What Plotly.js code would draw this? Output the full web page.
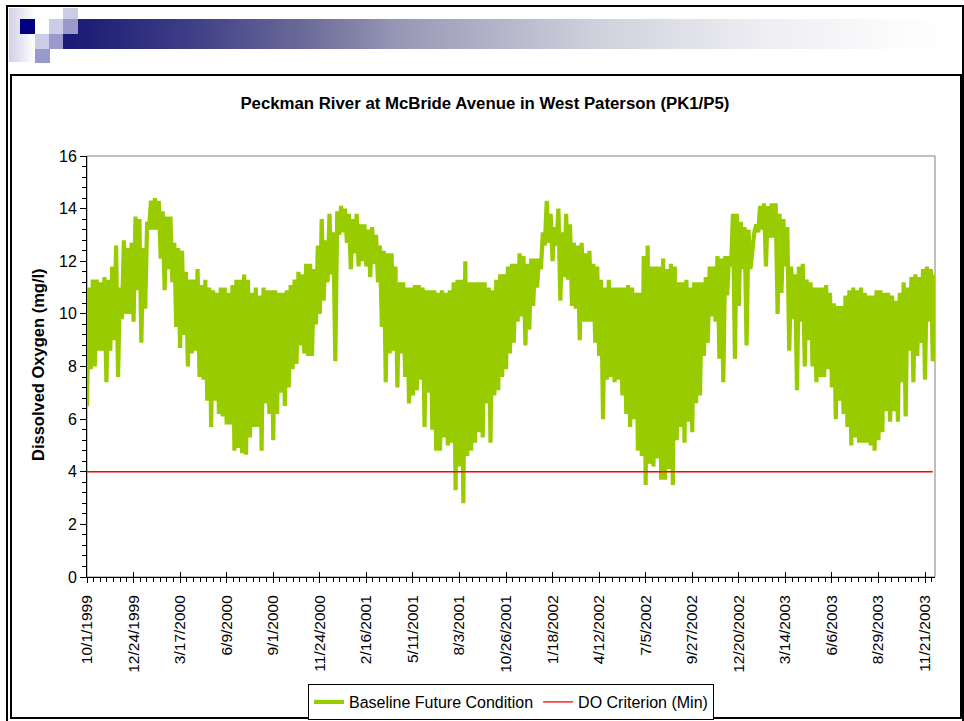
<!DOCTYPE html>
<html>
<head>
<meta charset="utf-8">
<script src="https://cdn.plot.ly/plotly-3.0.1.min.js"></script>
<style>
  html, body { margin:0; padding:0; background:#fff; }
  #wrap { position:relative; width:964px; height:721px; overflow:hidden; background:#fff; }
  .d { position:absolute; }
  #chart { position:absolute; left:0; top:0; width:964px; height:721px; }
</style>
</head>
<body>
<div id="wrap">
  <!-- slide frame -->
  <div class="d" style="left:6px;top:5px;width:954px;height:720px;border-top:2px solid #000;border-left:2px solid #000;border-right:2px solid #000;"></div>
  <!-- header decoration -->
  <div class="d" style="left:9px;top:8px;width:26px;height:54px;background:linear-gradient(to right,#d0d0e8,#ffffff);"></div>
  <div class="d" style="left:63px;top:19px;width:889px;height:30px;background:linear-gradient(to right,#1a1a78 0%,#222278 4%,#404088 15%,#6a6a98 27%,#9898b6 38%,#cfd1dc 60%,#eeeef3 79%,#fcfcfd 94%,#ffffff 100%);"></div>
  <div class="d" style="left:20px;top:19px;width:15px;height:15px;background:#000080;"></div>
  <div class="d" style="left:49px;top:19px;width:14px;height:15px;background:#ccccE6;"></div>
  <div class="d" style="left:63px;top:19px;width:15px;height:15px;background:#9999cc;"></div>
  <div class="d" style="left:63px;top:8px;width:15px;height:11px;background:#ccccE6;"></div>
  <div class="d" style="left:35px;top:34px;width:14px;height:15px;background:#ccccE6;"></div>
  <div class="d" style="left:49px;top:34px;width:14px;height:15px;background:#9999cc;"></div>
  <div class="d" style="left:35px;top:49px;width:15px;height:14px;background:#9999cc;"></div>
  <!-- chart frame -->
  <div class="d" style="left:10px;top:74px;width:948px;height:641px;border:2px solid #000;"></div>
  <div id="chart"></div>
</div>
<script>
// ---- data ----
const startDate = '1999-10-01';          // first day of the series
const stepDays = 7;                       // one high/low pair per week
// weekly high of the dissolved-oxygen trace (mg/l)
const weeklyHigh = [
 11.0, 11.3, 11.3, 11.2, 11.4, 11.3, 11.8, 12.6, 11.0, 12.8,
 12.5, 12.7, 13.7, 13.6, 12.5, 13.5, 14.3, 14.4, 14.3, 13.9,
 13.7, 13.7, 12.7, 12.5, 12.4, 11.6, 11.3, 11.3, 11.7, 11.1,
 11.3, 11.0, 10.9, 10.8, 11.0, 11.0, 10.8, 11.1, 11.3, 11.3,
 11.5, 11.3, 10.8, 11.0, 10.7, 11.0, 10.9, 10.9, 10.9, 10.8,
 10.8, 10.9, 11.1, 11.3, 11.6, 11.5, 11.9, 11.9, 11.7, 12.6,
 13.6, 12.8, 13.8, 13.1, 13.9, 14.1, 14.0, 13.8, 13.6, 13.8,
 13.4, 13.4, 13.2, 13.3, 13.0, 12.6, 12.4, 12.3, 12.3, 11.8,
 11.2, 11.2, 11.0, 11.0, 11.1, 11.1, 11.0, 10.9, 10.9, 10.9,
 10.8, 10.9, 10.8, 10.9, 11.2, 11.3, 11.3, 12.0, 11.2, 11.2,
 11.2, 11.2, 11.2, 11.0, 10.9, 11.3, 11.5, 11.5, 11.8, 11.9,
 11.9, 12.3, 12.2, 11.9, 12.1, 12.1, 12.1, 13.1, 14.3, 13.8,
 13.3, 14.0, 13.1, 13.8, 13.4, 12.7, 12.6, 12.7, 12.3, 12.4,
 11.9, 11.8, 11.3, 11.0, 11.3, 11.0, 11.0, 11.0, 11.0, 11.1,
 11.0, 10.8, 10.8, 12.2, 12.6, 11.8, 11.8, 11.8, 12.1, 11.7,
 11.9, 11.8, 11.2, 11.2, 11.3, 11.0, 11.2, 11.2, 11.2, 11.4,
 11.8, 11.8, 12.2, 12.1, 12.2, 12.2, 13.8, 13.8, 13.5, 13.3,
 13.2, 12.4, 13.4, 14.1, 14.2, 14.1, 14.2, 14.2, 13.8, 13.6,
 13.3, 11.8, 11.5, 11.8, 11.9, 11.3, 11.2, 11.0, 11.0, 11.0,
 11.1, 10.8, 10.4, 10.3, 10.3, 10.7, 10.9, 11.0, 10.9, 11.0,
 10.8, 10.7, 10.7, 10.9, 10.9, 10.8, 10.8, 10.7, 10.5, 10.8,
 11.2, 11.0, 11.4, 11.5, 11.4, 11.7, 11.8, 11.7, 11.5
];
// weekly low of the dissolved-oxygen trace (mg/l)
const weeklyLow = [
 6.5, 7.9, 8.0, 8.6, 8.6, 7.4, 8.6, 9.0, 7.6, 9.8,
 10.0, 10.0, 9.7, 10.9, 8.9, 10.2, 13.2, 13.2, 13.2, 12.1,
 10.9, 11.7, 11.2, 9.5, 8.7, 9.2, 8.0, 8.5, 8.6, 7.6,
 7.5, 6.7, 5.7, 6.7, 6.2, 6.1, 5.8, 5.8, 4.8, 4.9,
 4.7, 4.65, 5.3, 5.7, 5.7, 4.8, 6.6, 6.2, 5.2, 6.2,
 7.0, 6.5, 7.2, 7.9, 8.1, 8.8, 8.5, 8.4, 8.4, 9.6,
 10.0, 10.5, 11.2, 11.5, 8.2, 13.0, 13.1, 12.7, 11.7, 12.3,
 11.8, 12.0, 11.8, 11.4, 11.9, 11.2, 9.5, 7.4, 8.5, 8.6,
 7.2, 8.5, 7.6, 6.6, 6.9, 7.1, 7.5, 5.7, 7.0, 5.6,
 4.8, 4.8, 5.3, 5.0, 5.1, 3.3, 4.2, 2.8, 4.6, 4.8,
 5.1, 5.5, 5.3, 6.6, 5.1, 6.9, 7.1, 7.6, 7.9, 8.5,
 8.9, 9.7, 9.9, 8.8, 9.4, 10.3, 11.0, 11.7, 12.6, 12.7,
 12.0, 12.6, 10.5, 11.4, 11.3, 10.3, 10.2, 9.0, 9.7, 9.7,
 9.7, 8.9, 8.4, 6.0, 7.5, 7.6, 7.4, 7.5, 6.9, 6.2,
 5.7, 6.0, 4.8, 4.6, 3.5, 4.3, 4.2, 4.5, 3.7, 3.7,
 4.1, 3.5, 5.2, 5.7, 5.1, 5.9, 5.5, 6.6, 6.9, 8.4,
 8.9, 9.9, 9.7, 8.3, 7.4, 10.7, 11.8, 8.3, 10.3, 11.7,
 8.8, 11.7, 13.1, 13.1, 13.2, 11.8, 12.9, 12.9, 10.0, 10.8,
 11.8, 8.6, 9.8, 7.1, 9.7, 8.0, 9.0, 8.0, 7.4, 7.6,
 7.6, 7.9, 7.2, 6.0, 6.7, 6.2, 5.7, 5.0, 5.3, 5.1,
 5.1, 5.1, 5.0, 4.8, 5.2, 5.5, 6.3, 5.9, 6.3, 5.9,
 7.4, 6.1, 8.6, 7.4, 8.4, 8.9, 7.5, 9.7, 8.2
];
const criterionValues = [4, 4];           // DO criterion (min), mg/l
const criterionDates = ['1999-10-01', '2003-12-05'];
const tickLabels = ['10/1/1999','12/24/1999','3/17/2000','6/9/2000','9/1/2000','11/24/2000',
  '2/16/2001','5/11/2001','8/3/2001','10/26/2001','1/18/2002','4/12/2002','7/5/2002',
  '9/27/2002','12/20/2002','3/14/2003','6/6/2003','8/29/2003','11/21/2003'];
const xRange = ['1999-10-01', '2003-12-09'];
const seriesNames = ['Baseline Future Condition', 'DO Criterion (Min)'];
const chartTitle = 'Peckman River at McBride Avenue in West Paterson (PK1/P5)';
const yTitle = 'Dissolved Oxygen (mg/l)';

// ---- build traces ----
const DAY = 86400000;
const t0 = Date.parse(startDate + 'T00:00:00Z');
function dstr(ms) { return new Date(ms).toISOString().slice(0, 16).replace('T', ' '); }
const xs = [], ys = [];
for (let i = 0; i < weeklyHigh.length; i++) {
  xs.push(dstr(t0 + i * stepDays * DAY)); ys.push(weeklyLow[i]);
  xs.push(dstr(t0 + (i * stepDays + stepDays / 2) * DAY)); ys.push(weeklyHigh[i]);
}
function labelToDate(s) {
  const p = s.split('/');
  return p[2] + '-' + p[0].padStart(2, '0') + '-' + p[1].padStart(2, '0');
}
const tickVals = tickLabels.map(labelToDate);

const FONT = 'Arial, "Liberation Sans", sans-serif';
const traces = [
  { x: xs, y: ys, type: 'scatter', mode: 'lines', name: seriesNames[0],
    line: { color: '#99cc00', width: 4.2, simplify: false }, xaxis: 'x', yaxis: 'y' },
  { x: criterionDates, y: criterionValues, type: 'scatter', mode: 'lines', name: seriesNames[1],
    line: { color: '#ff0000', width: 1.3 }, xaxis: 'x2', yaxis: 'y' }
];

const layout = {
  width: 964, height: 721, autosize: false,
  margin: { l: 87, r: 29, t: 156, b: 144, pad: 0, autoexpand: false },
  paper_bgcolor: 'rgba(0,0,0,0)', plot_bgcolor: 'rgba(0,0,0,0)',
  font: { family: FONT, color: '#000' },
  showlegend: true,
  title: { text: '<b>' + chartTitle + '</b>', font: { family: FONT, size: 16.8, color: '#000' },
    x: 0.503, xref: 'container', xanchor: 'center', y: 1 - 103 / 721, yref: 'container', yanchor: 'middle' },
  xaxis: {
    type: 'date', range: xRange, tickmode: 'array', tickvals: tickVals, ticktext: tickLabels,
    tickangle: -90, tickfont: { family: FONT, size: 15.5, color: '#000' },
    ticks: 'outside', ticklen: 5, tickwidth: 1, tickcolor: '#000', ticklabelstandoff: 6,
    minor: { ticks: 'outside', tick0: startDate, dtick: 12 * DAY, ticklen: 4, tickcolor: '#000', tickwidth: 1, showgrid: false },
    showline: true, linecolor: '#000', linewidth: 1, showgrid: false, zeroline: false,
    automargin: false
  },
  xaxis2: {
    type: 'date', range: xRange, overlaying: 'x', anchor: 'y', side: 'bottom',
    tickmode: 'array', tickvals: tickVals, ticks: 'inside', ticklen: 5, tickcolor: '#000', tickwidth: 1,
    showticklabels: false, showline: false, showgrid: false, zeroline: false, automargin: false
  },
  yaxis: {
    range: [0, 16], tickmode: 'linear', tick0: 0, dtick: 2,
    tickfont: { family: FONT, size: 16, color: '#000' },
    ticks: 'outside', ticklen: 6, tickwidth: 1, tickcolor: '#000',
    minor: { ticks: 'outside', dtick: 0.4, ticklen: 4, tickcolor: '#000', tickwidth: 1, showgrid: false },
    showline: true, linecolor: '#000', linewidth: 1, showgrid: false, zeroline: false,
    automargin: false
  },
  shapes: [
    { type: 'rect', xref: 'paper', yref: 'paper', x0: 0, x1: 1, y0: 0, y1: 1,
      line: { color: '#808080', width: 1 }, layer: 'below' }
  ],
  annotations: [
    { text: '<b>' + yTitle + '</b>', xref: 'paper', yref: 'paper', x: (38 - 87) / 848, y: (577 - 365) / 421,
      xanchor: 'center', yanchor: 'middle', textangle: -90, showarrow: false,
      font: { family: FONT, size: 16.5, color: '#000' } }
  ],
  legend: {
    orientation: 'h', x: 0.5, xanchor: 'center', y: (577 - 684) / 421, yanchor: 'top',
    bgcolor: '#fff', bordercolor: '#000', borderwidth: 1,
    font: { family: FONT, size: 16, color: '#000' }, traceorder: 'normal'
  }
};

Plotly.newPlot('chart', traces, layout, { staticPlot: true, displayModeBar: false });
</script>
</body>
</html>
